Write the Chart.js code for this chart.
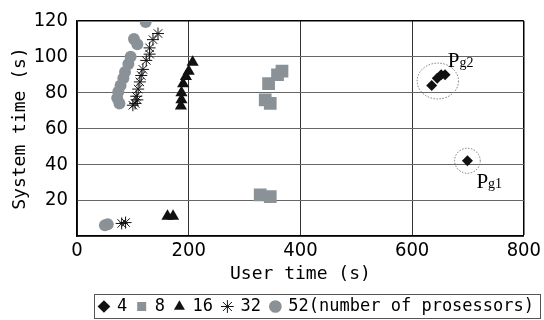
<!DOCTYPE html>
<html>
<head>
<meta charset="utf-8">
<script src="https://cdn.jsdelivr.net/npm/chart.js@4"></script>
<style>
  html, body { margin: 0; padding: 0; background: #fff; }
  #wrap { width: 544px; height: 320px; }
</style>
</head>
<body>
<div id="wrap"><canvas id="chart" width="544" height="320"></canvas></div>
<script>
// user time / system time per processor count
const user4  = [635, 645, 652, 659, 699];
const sys4   = [84, 88, 90, 90, 42];
const user8  = [328, 346, 337, 346, 343, 359, 367];
const sys8   = [23, 22, 76, 74, 85, 90, 92];
const user16 = [162, 172, 186, 187, 187, 190, 195, 200, 207];
const sys16  = [11, 11, 72.5, 76, 80, 85, 89, 92, 97];
const user32 = [80, 87, 100, 104, 108, 106, 109.5, 112.5, 115, 118, 124, 130, 130, 136, 145];
const sys32  = [7, 7.5, 73, 74, 76, 78, 82, 86, 89.6, 93, 98, 101.5, 105, 109.6, 113];
const user52 = [50, 55, 76, 72, 74, 78, 83, 86, 92, 96, 102, 108, 123];
const sys52  = [6, 6.5, 74, 77, 80.5, 84, 88, 91.5, 96, 100, 110, 107, 119.5];

const seriesLabels = ['4', '8', '16', '32', '52(number of prosessors)'];
const xTicks = [0, 200, 400, 600, 800];
const yTicks = [0, 20, 40, 60, 80, 100, 120];

// dotted rings + labels around the two groups
const callouts = [
  { name: 'P', sub: 'g2', x: 646, y: 86.5, rx: 37, ry: 10 },
  { name: 'P', sub: 'g1', x: 699, y: 42, rx: 23, ry: 7 }
];

const pts = (xs, ys) => xs.map((v, i) => ({ x: v, y: ys[i] }));
const gray = '#8a9298';
const tickFont = { family: "'Liberation Sans Narrow', 'DejaVu Sans Condensed', sans-serif", size: 20 };
const monoFont = { family: "'DejaVu Sans Mono', 'Liberation Mono', monospace", size: 18 };

const calloutPlugin = {
  id: 'callouts',
  afterDatasetsDraw(chart) {
    const ctx = chart.ctx, xs = chart.scales.x, ys = chart.scales.y;
    const offs = [[10, -14], [9, 27]];
    callouts.forEach((c, i) => {
      const cx = xs.getPixelForValue(c.x), cy = ys.getPixelForValue(c.y);
      const rx = xs.getPixelForValue(c.x + c.rx) - cx;
      const ry = cy - ys.getPixelForValue(c.y + c.ry);
      ctx.save();
      ctx.strokeStyle = '#777';
      ctx.lineWidth = 1;
      ctx.setLineDash([1.5, 1.5]);
      ctx.beginPath();
      ctx.ellipse(cx, cy, rx, ry, 0, 0, Math.PI * 2);
      ctx.stroke();
      ctx.setLineDash([]);
      ctx.fillStyle = '#000';
      ctx.textBaseline = 'alphabetic';
      ctx.font = "21px 'Liberation Serif', serif";
      const tx = cx + offs[i][0], ty = cy + offs[i][1];
      ctx.fillText(c.name, tx, ty);
      const w = ctx.measureText(c.name).width;
      ctx.font = "14px 'Liberation Serif', serif";
      ctx.fillText(c.sub, tx + w, ty);
      ctx.restore();
    });
  }
};

const legendBox = {
  id: 'legendBox',
  afterDraw(chart) {
    const hb = chart.legend.legendHitBoxes;
    if (!hb || !hb.length) return;
    const ctx = chart.ctx;
    const top = Math.round(hb[0].top) - 4;
    const h = Math.round(hb[0].height) + 7;
    const left = Math.round(hb[0].left) - 5;
    const right = 540;
    ctx.save();
    ctx.strokeStyle = '#555';
    ctx.lineWidth = 1;
    ctx.strokeRect(left + 0.5, top + 0.5, right - left, h);
    ctx.restore();
  }
};

new Chart(document.getElementById('chart'), {
  type: 'scatter',
  data: {
    datasets: [
      { label: seriesLabels[0], data: pts(user4, sys4), pointStyle: 'rectRot', pointRadius: 5.5,
        backgroundColor: '#111', borderColor: '#111', borderWidth: 0 },
      { label: seriesLabels[1], data: pts(user8, sys8), pointStyle: 'rect', pointRadius: 9,
        backgroundColor: gray, borderColor: gray, borderWidth: 0 },
      { label: seriesLabels[2], data: pts(user16, sys16), pointStyle: 'triangle', pointRadius: 7,
        backgroundColor: '#111', borderColor: '#111', borderWidth: 0 },
      { label: seriesLabels[3], data: pts(user32, sys32), pointStyle: 'star', pointRadius: 6,
        backgroundColor: 'rgba(0,0,0,0)', borderColor: '#111', borderWidth: 1 },
      { label: seriesLabels[4], data: pts(user52, sys52), pointStyle: 'circle', pointRadius: 6,
        backgroundColor: gray, borderColor: gray, borderWidth: 0 }
    ]
  },
  options: {
    responsive: false,
    animation: false,
    devicePixelRatio: 1,
    layout: { padding: { top: 1, left: 0, right: 0, bottom: -5 } },
    plugins: {
      tooltip: { enabled: false },
      legend: {
        position: 'bottom',
        align: 'end',
        labels: {
          usePointStyle: true,
          boxWidth: 9,
          boxHeight: 9,
          padding: 10,
          color: '#000',
          font: { family: monoFont.family, size: 17 }
        }
      }
    },
    scales: {
      x: {
        type: 'linear',
        min: 0, max: 800,
        afterBuildTicks: s => { s.ticks = xTicks.map(v => ({ value: v })); },
        afterFit: s => { s.height = 52; },
        ticks: { color: '#000', font: tickFont, padding: 3, maxRotation: 0 },
        grid: {
          drawTicks: false,
          color: c => c.tick && c.tick.value === 800 ? '#000' : '#333',
          lineWidth: c => c.tick && c.tick.value === 800 ? 1.5 : 1
        },
        border: { display: true, color: '#000', width: 1.5 },
        title: { display: true, text: 'User time (s)', color: '#000', font: monoFont,
                 padding: { top: 0, bottom: 3 } }
      },
      y: {
        type: 'linear',
        min: 0, max: 120,
        afterBuildTicks: s => { s.ticks = yTicks.map(v => ({ value: v })); },
        afterFit: s => { s.width = 77; },
        ticks: { color: '#000', font: tickFont, padding: 9,
                 callback: v => (v === 0 ? '' : v) },
        grid: {
          drawTicks: false,
          color: c => c.tick && c.tick.value === 120 ? '#000' : '#666',
          lineWidth: c => c.tick && c.tick.value === 120 ? 1.5 : 1
        },
        border: { display: true, color: '#000', width: 1.5 },
        title: { display: true, text: 'System time (s)', color: '#000', font: monoFont,
                 padding: { top: 10, bottom: 0 } }
      }
    }
  },
  plugins: [calloutPlugin, legendBox]
});
</script>
</body>
</html>
